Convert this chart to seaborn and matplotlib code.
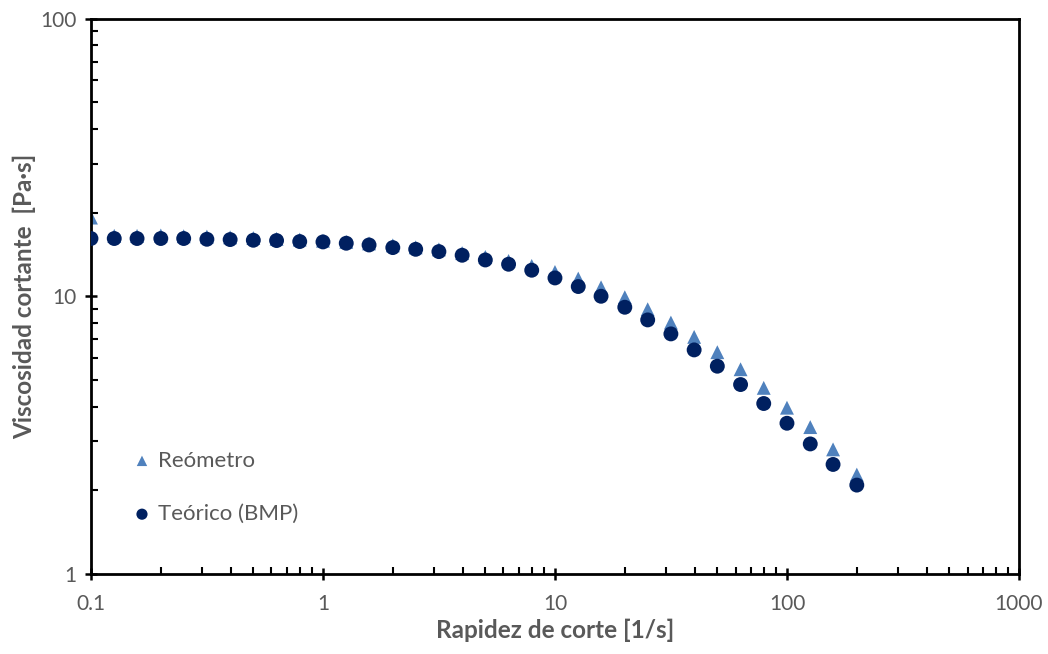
import numpy as np
import pandas as pd
import matplotlib
matplotlib.use("Agg")
import matplotlib.pyplot as plt
import matplotlib.ticker as mticker
import seaborn as sns

# Shear rate [1/s]
shear_rate = [0.1, 0.126, 0.158, 0.2, 0.251, 0.316, 0.398, 0.501, 0.631, 0.794,
              1.0, 1.26, 1.58, 2.0, 2.51, 3.16, 3.98, 5.01, 6.31, 7.94,
              10.0, 12.6, 15.8, 20.0, 25.1, 31.6, 39.8, 50.1, 63.1, 79.4,
              100.0, 126.0, 158.0, 200.0]

# Measured viscosity (rheometer) [Pa·s]
visc_reometro = [19.2, 16.5, 16.5, 16.55, 16.45, 16.4, 16.3, 16.2, 16.1, 16.0,
                 15.85, 15.7, 15.5, 15.25, 15.0, 14.75, 14.3, 13.85, 13.4, 12.86,
                 12.23, 11.58, 10.77, 9.92, 8.98, 8.04, 7.14, 6.29, 5.46, 4.68,
                 3.97, 3.38, 2.81, 2.28]

# Model viscosity (BMP) [Pa·s]
visc_teorico = [16.14, 16.14, 16.14, 16.14, 16.14, 16.04, 16.0, 15.91, 15.87, 15.74,
                15.69, 15.52, 15.3, 14.97, 14.76, 14.48, 14.05, 13.51, 13.04, 12.41,
                11.64, 10.84, 10.0, 9.13, 8.22, 7.32, 6.41, 5.6, 4.81, 4.11,
                3.49, 2.94, 2.48, 2.09]

x_ticks = [0.1, 1, 10, 100, 1000]
x_tick_labels = ["0.1", "1", "10", "100", "1000"]
y_ticks = [1, 10, 100]
y_tick_labels = ["1", "10", "100"]

label_reo = "Reómetro"
label_teo = "Teórico (BMP)"

df = pd.DataFrame({"x": shear_rate, "reo": visc_reometro, "teo": visc_teorico})

sns.set_style("white")
plt.rcParams["font.family"] = ["Lato", "DejaVu Sans"]

text_gray = "#595959"
c_reo = "#4F81BD"
c_teo = "#002060"

fig = plt.figure(figsize=(10.48, 6.54), dpi=100)
ax = fig.add_axes([0.0868, 0.1223, 0.8855, 0.8494])

sns.scatterplot(data=df, x="x", y="reo", ax=ax, marker="^", s=100, color=c_reo,
                edgecolor="none", label=label_reo, zorder=2)
sns.scatterplot(data=df, x="x", y="teo", ax=ax, marker="o", s=115, color=c_teo,
                edgecolor="none", label=label_teo, zorder=3)

ax.set_xscale("log")
ax.set_yscale("log")
ax.set_xlim(0.1, 1000)
ax.set_ylim(1, 100)

ax.set_xticks(x_ticks)
ax.set_xticklabels(x_tick_labels)
ax.set_yticks(y_ticks)
ax.set_yticklabels(y_tick_labels)
ax.xaxis.set_minor_locator(mticker.LogLocator(base=10, subs=np.arange(2, 10)))
ax.yaxis.set_minor_locator(mticker.LogLocator(base=10, subs=np.arange(2, 10)))
ax.xaxis.set_minor_formatter(mticker.NullFormatter())
ax.yaxis.set_minor_formatter(mticker.NullFormatter())

ax.tick_params(axis="both", which="both", bottom=True, left=True, top=False, right=False)
ax.tick_params(axis="both", which="major", direction="inout", length=9, width=1.8,
               color="black", labelsize=15, labelcolor=text_gray)
ax.tick_params(axis="x", which="major", pad=10)
ax.tick_params(axis="y", which="major", pad=6)
ax.tick_params(axis="both", which="minor", direction="in", length=5, width=1.5,
               color="black")

for sp in ax.spines.values():
    sp.set_visible(True)
    sp.set_color("black")
    sp.set_linewidth(2)

ax.set_xlabel("Rapidez de corte [1/s]", fontsize=17.5, fontweight="bold",
              color=text_gray, labelpad=3)
ax.set_ylabel("Viscosidad cortante  [Pa·s]", fontsize=17.5, fontweight="bold",
              color=text_gray, labelpad=3)

leg = ax.legend(loc="center left", bbox_to_anchor=(0.043, 0.156), frameon=False,
                fontsize=16, labelspacing=1.5, handlelength=1.0, handletextpad=0.2,
                markerscale=0.75, borderaxespad=0, borderpad=0)
for t in leg.get_texts():
    t.set_color(text_gray)

fig.savefig("out.png", dpi=100, facecolor="white")
